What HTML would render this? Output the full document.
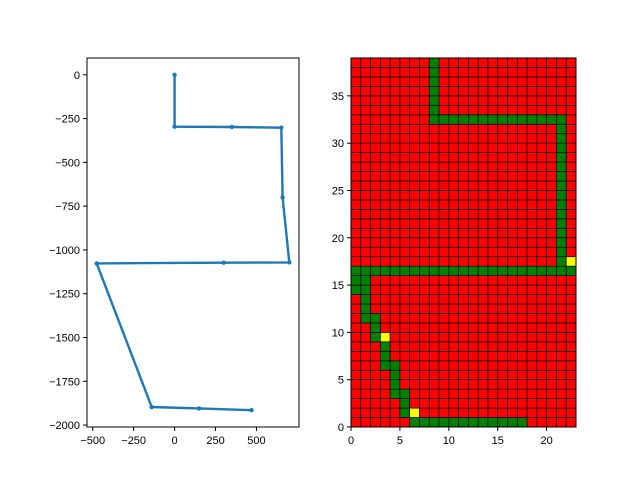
<!DOCTYPE html>
<html><head><meta charset="utf-8"><style>
body{margin:0;background:#fff;}
svg{display:block;font-family:"Liberation Sans","DejaVu Sans",sans-serif;}
</style></head><body>
<svg id="fig" width="640" height="480" viewBox="0 0 640 480"></svg>
<script>
const pathX = [0, 0, 350, 652, 660, 701, 300, -476, -140, 150, 470];
const pathY = [0, -296, -298, -302, -700, -1071, -1073, -1077, -1897, -1905, -1915];
const xTicks = [-500, -250, 0, 250, 500];
const yTicks = [0, -250, -500, -750, -1000, -1250, -1500, -1750, -2000];
const gridCols = 23, gridRows = 39;
const greenRuns = [[0,6,17],[1,5,5],[2,5,5],[3,4,5],[4,4,4],[5,4,4],[6,3,4],[7,3,3],[8,3,3],[9,2,2],[10,2,2],[11,1,2],[12,1,1],[13,1,1],[14,0,1],[15,0,1],[16,0,22],[17,21,21],[18,21,21],[19,21,21],[20,21,21],[21,21,21],[22,21,21],[23,21,21],[24,21,21],[25,21,21],[26,21,21],[27,21,21],[28,21,21],[29,21,21],[30,21,21],[31,21,21],[32,8,21],[33,8,8],[34,8,8],[35,8,8],[36,8,8],[37,8,8],[38,8,8]];
const yellowCells = [[1,6],[9,3],[17,22]];
const gxTicks = [0,5,10,15,20];
const gyTicks = [0,5,10,15,20,25,30,35];

const NS="http://www.w3.org/2000/svg";
const svg=document.getElementById('fig');
function mk(tag,attrs,parent){const e=document.createElementNS(NS,tag);for(const k in attrs)e.setAttribute(k,attrs[k]);(parent||svg).appendChild(e);return e;}
function fmt(v){return v<0?'\u2212'+Math.abs(v):String(v);}

const L={x0:87,x1:299,y0:58,y1:427,xmin:-535,xmax:760,ymin:-2011,ymax:96};
const sx=v=>L.x0+(v-L.xmin)/(L.xmax-L.xmin)*(L.x1-L.x0);
const sy=v=>L.y1-(v-L.ymin)/(L.ymax-L.ymin)*(L.y1-L.y0);
const gL=mk('g',{});


let d='';
pathX.forEach((x,i)=>{d+=(i?'L':'M')+sx(x).toFixed(1)+' '+sy(pathY[i]).toFixed(1);});
const line=mk('path',{d:d,fill:'none',stroke:'#1f77b4','stroke-width':2.4,'stroke-linejoin':'round'},gL);


pathX.forEach((x,i)=>{const c=mk('circle',{cx:sx(x),cy:sy(pathY[i]),r:2.2,fill:'#1f77b4'},gL);

});
mk('rect',{x:L.x0,y:L.y0,width:L.x1-L.x0,height:L.y1-L.y0,fill:'none',stroke:'#000','stroke-width':1},gL);
xTicks.forEach(t=>{const x=sx(t);mk('line',{x1:x,x2:x,y1:L.y1,y2:L.y1+4,stroke:'#000'},gL);
const tx=mk('text',{x:x,y:L.y1+17,'font-size':11,'text-anchor':'middle'},gL);tx.textContent=fmt(t);

});
yTicks.forEach(t=>{const y=sy(t);mk('line',{x1:L.x0-4,x2:L.x0,y1:y,y2:y,stroke:'#000'},gL);
const tx=mk('text',{x:L.x0-7,y:y+4,'font-size':11,'text-anchor':'end'},gL);tx.textContent=fmt(t);

});

const R={x0:351,x1:576,y0:58,y1:427};
const cw=(R.x1-R.x0)/gridCols, ch=(R.y1-R.y0)/gridRows;
const gx=c=>R.x0+c*cw, gy=r=>R.y1-r*ch;
const gR=mk('g',{});


const color=[];
for(let r=0;r<gridRows;r++){color.push(new Array(gridCols).fill('#ff0000'));}
greenRuns.forEach(([r,a,b])=>{for(let c=a;c<=b;c++)color[r][c]='#008000';});
yellowCells.forEach(([r,c])=>{color[r][c]='#ffff00';});
for(let r=0;r<gridRows;r++)for(let c=0;c<gridCols;c++){
const cell=mk('rect',{x:gx(c),y:gy(r+1),width:cw,height:ch,fill:color[r][c],stroke:'#000','stroke-width':0.7},gR);

}
mk('rect',{x:R.x0,y:R.y0,width:R.x1-R.x0,height:R.y1-R.y0,fill:'none',stroke:'#000','stroke-width':1},gR);
gxTicks.forEach(t=>{const x=gx(t);mk('line',{x1:x,x2:x,y1:R.y1,y2:R.y1+4,stroke:'#000'},gR);
const tx=mk('text',{x:x,y:R.y1+17,'font-size':11,'text-anchor':'middle'},gR);tx.textContent=fmt(t);

});
gyTicks.forEach(t=>{const y=gy(t);mk('line',{x1:R.x0-4,x2:R.x0,y1:y,y2:y,stroke:'#000'},gR);
const tx=mk('text',{x:R.x0-7,y:y+4,'font-size':11,'text-anchor':'end'},gR);tx.textContent=fmt(t);

});
</script>
</body></html>
